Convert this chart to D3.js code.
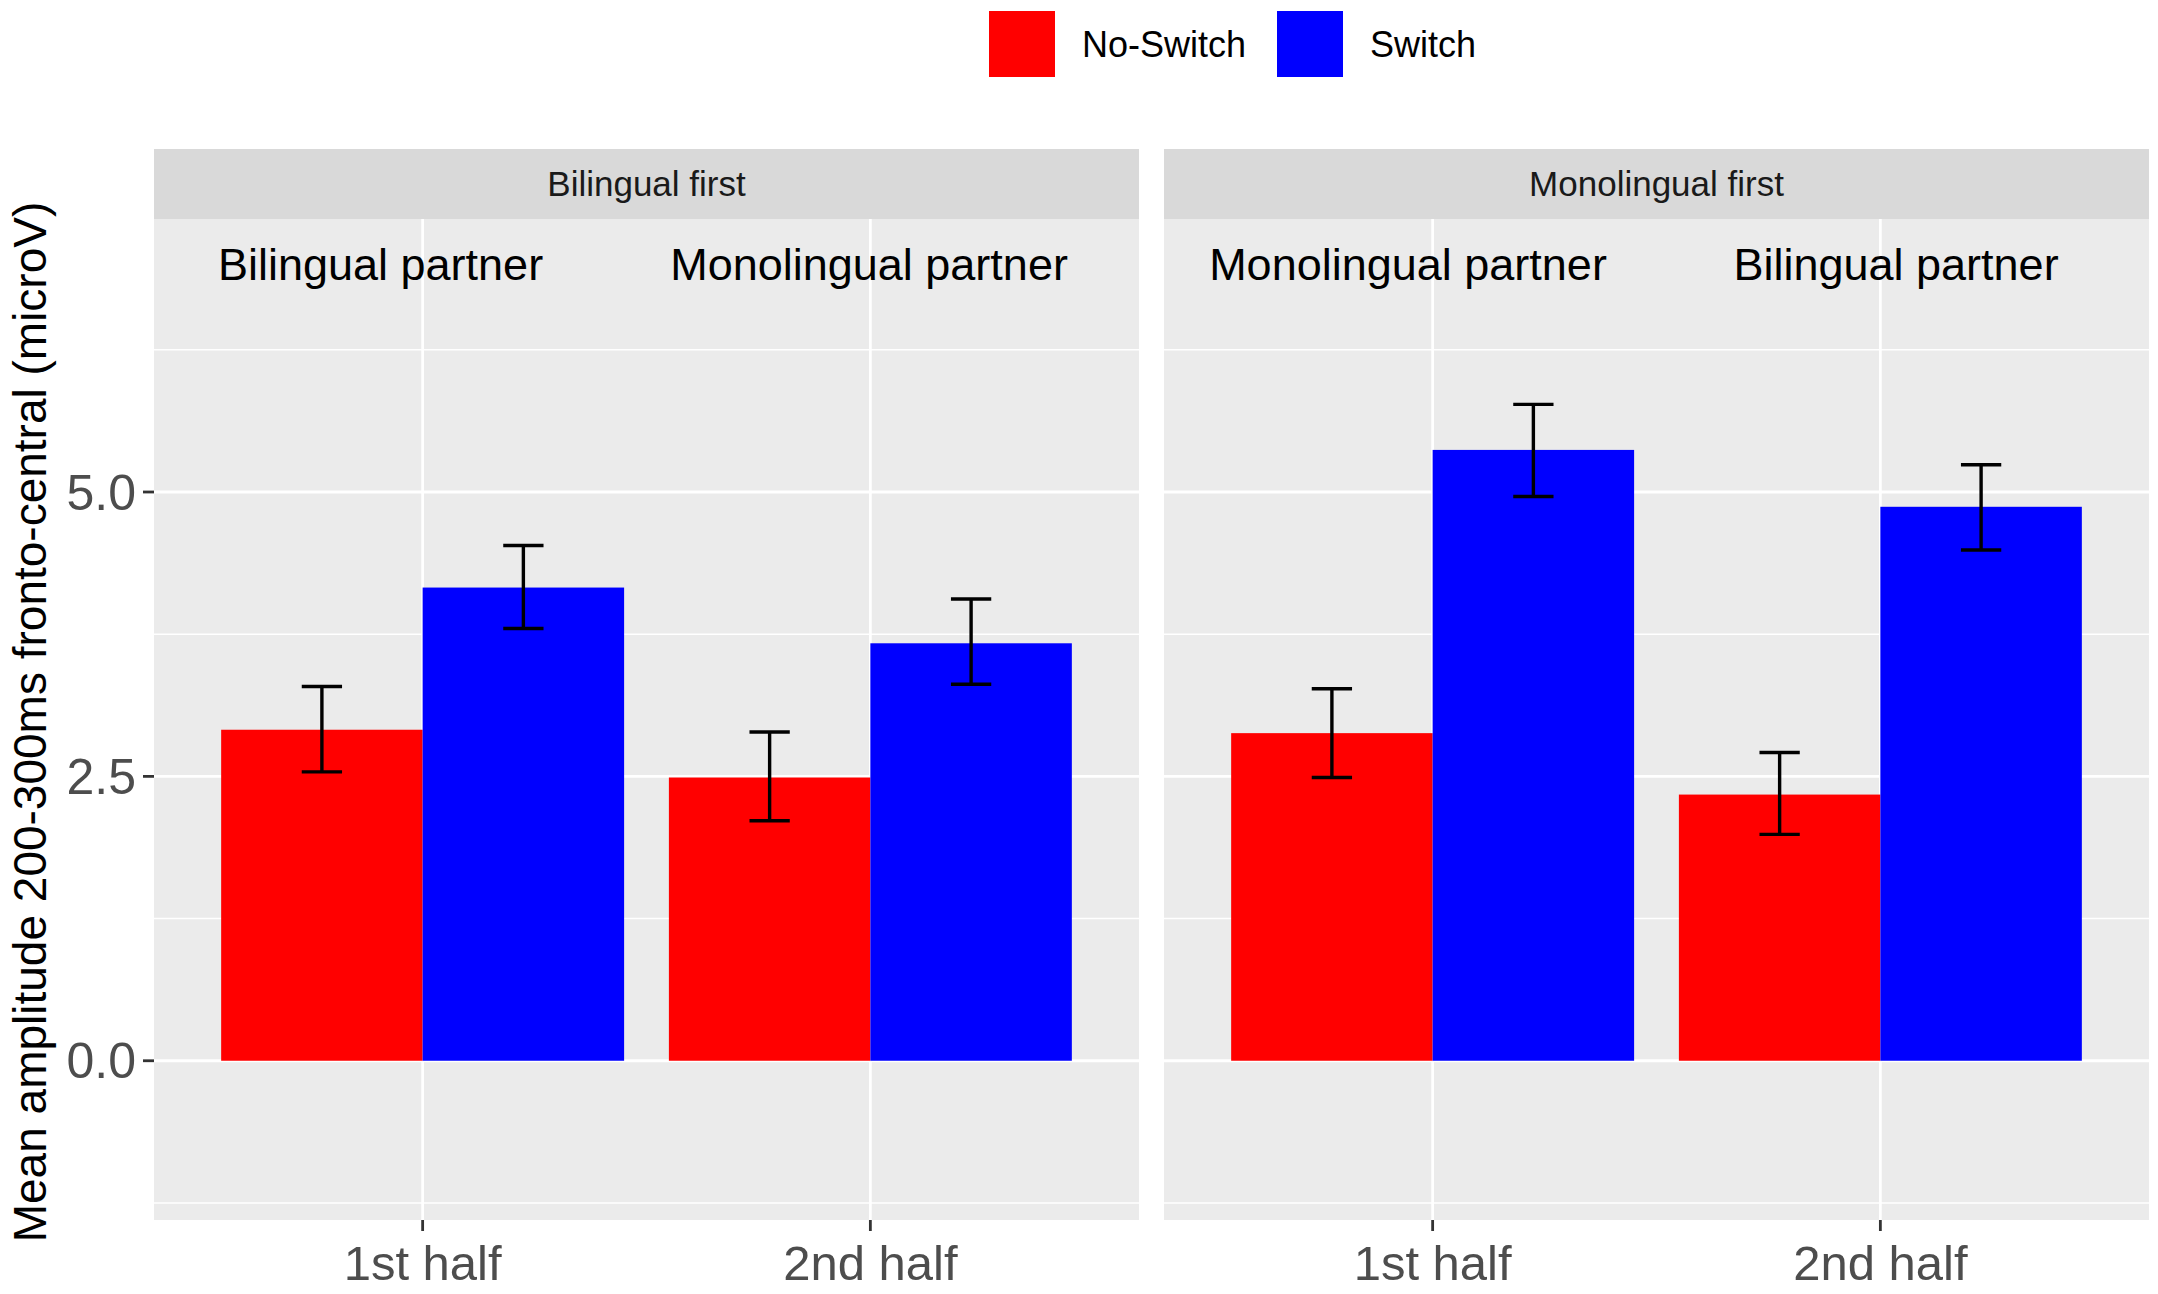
<!DOCTYPE html>
<html>
<head>
<meta charset="utf-8">
<script src="https://cdn.jsdelivr.net/npm/d3@7"></script>
<style>
  body { margin: 0; background: #ffffff; }
  text { font-family: "Liberation Sans", Arial, sans-serif; }
</style>
</head>
<body>
<div id="chart"></div>
<script>
const width = 2158;
const height = 1294;

// facets, x categories, fill groups
const panels = ["Bilingual first", "Monolingual first"];
const halves = ["1st half", "2nd half"];
const conditions = ["No-Switch", "Switch"];
const colors = ["#FF0000", "#0000FF"];

// means and error bar limits, per panel: [1st half, 2nd half]
const noSwitchMean = [[2.91, 2.49], [2.88, 2.34]];
const noSwitchLow  = [[2.54, 2.11], [2.49, 1.99]];
const noSwitchHigh = [[3.29, 2.89], [3.27, 2.71]];
const switchMean   = [[4.16, 3.67], [5.37, 4.87]];
const switchLow    = [[3.80, 3.31], [4.96, 4.49]];
const switchHigh   = [[4.53, 4.06], [5.77, 5.24]];

// in-panel labels (x in category units, y in data units)
const partnerLabels = [["Bilingual partner", "Monolingual partner"], ["Monolingual partner", "Bilingual partner"]];
const partnerX = [[0.906, 1.997], [0.945, 2.035]];
const partnerY = 7;

const yTicks = [0, 2.5, 5.0];
const yMinor = [-1.25, 1.25, 3.75, 6.25];
const yTitle = "Mean amplitude 200-300ms fronto-central (microV)";

const panelLeft = [154, 1164];
const panelW = 985;
const stripTop = 149, stripBottom = 219, panelBottom = 1220;

const svg = d3.select("#chart")
  .append("svg")
  .attr("width", width)
  .attr("height", height);

const y = d3.scaleLinear()
  .domain([-1.4, 7.4])
  .range([panelBottom, stripBottom]);

const barW = 0.45;
const capW = 0.09;

panels.forEach((name, p) => {
  const x = d3.scaleLinear()
    .domain([0.4, 2.6])
    .range([panelLeft[p], panelLeft[p] + panelW]);
  const g = svg.append("g");

  // strip
  g.append("rect")
    .attr("x", panelLeft[p]).attr("y", stripTop)
    .attr("width", panelW).attr("height", stripBottom - stripTop)
    .attr("fill", "#D9D9D9");
  g.append("text")
    .attr("x", panelLeft[p] + panelW / 2)
    .attr("y", (stripTop + stripBottom) / 2)
    .attr("dy", "0.35em")
    .attr("text-anchor", "middle")
    .attr("font-size", 35)
    .attr("fill", "#1A1A1A")
    .text(name);

  // panel background
  g.append("rect")
    .attr("x", panelLeft[p]).attr("y", stripBottom)
    .attr("width", panelW).attr("height", panelBottom - stripBottom)
    .attr("fill", "#EBEBEB");

  // grid
  g.selectAll(".minor").data(yMinor).join("line")
    .attr("x1", panelLeft[p]).attr("x2", panelLeft[p] + panelW)
    .attr("y1", d => y(d)).attr("y2", d => y(d))
    .attr("stroke", "#ffffff").attr("stroke-width", 1.4);
  g.selectAll(".major").data(yTicks).join("line")
    .attr("x1", panelLeft[p]).attr("x2", panelLeft[p] + panelW)
    .attr("y1", d => y(d)).attr("y2", d => y(d))
    .attr("stroke", "#ffffff").attr("stroke-width", 2.8);
  g.selectAll(".vgrid").data(halves).join("line")
    .attr("x1", (d, i) => x(i + 1)).attr("x2", (d, i) => x(i + 1))
    .attr("y1", stripBottom).attr("y2", panelBottom)
    .attr("stroke", "#ffffff").attr("stroke-width", 2.8);

  // bars
  const rows = [];
  halves.forEach((h, i) => {
    rows.push({ c: 0, x: i + 1 - barW / 2, mean: noSwitchMean[p][i], lo: noSwitchLow[p][i], hi: noSwitchHigh[p][i] });
    rows.push({ c: 1, x: i + 1 + barW / 2, mean: switchMean[p][i], lo: switchLow[p][i], hi: switchHigh[p][i] });
  });

  g.selectAll(".bar").data(rows).join("rect")
    .attr("x", d => x(d.x - barW / 2))
    .attr("width", d => x(d.x + barW / 2) - x(d.x - barW / 2))
    .attr("y", d => y(d.mean))
    .attr("height", d => y(0) - y(d.mean))
    .attr("fill", d => colors[d.c]);

  // error bars
  const eb = g.selectAll(".eb").data(rows).join("g")
    .attr("stroke", "#000000").attr("stroke-width", 3.4);
  eb.append("line")
    .attr("x1", d => x(d.x)).attr("x2", d => x(d.x))
    .attr("y1", d => y(d.lo)).attr("y2", d => y(d.hi));
  eb.append("line")
    .attr("x1", d => x(d.x - capW / 2)).attr("x2", d => x(d.x + capW / 2))
    .attr("y1", d => y(d.lo)).attr("y2", d => y(d.lo));
  eb.append("line")
    .attr("x1", d => x(d.x - capW / 2)).attr("x2", d => x(d.x + capW / 2))
    .attr("y1", d => y(d.hi)).attr("y2", d => y(d.hi));

  // partner labels
  g.selectAll(".plab").data(partnerLabels[p]).join("text")
    .attr("x", (d, i) => x(partnerX[p][i]))
    .attr("y", y(partnerY))
    .attr("dy", "0.35em")
    .attr("text-anchor", "middle")
    .attr("font-size", 45)
    .attr("fill", "#000000")
    .text(d => d);

  // x axis
  const xa = g.append("g").attr("transform", `translate(0, ${panelBottom})`);
  xa.selectAll("line").data(halves).join("line")
    .attr("x1", (d, i) => x(i + 1)).attr("x2", (d, i) => x(i + 1))
    .attr("y1", 0).attr("y2", 11)
    .attr("stroke", "#333333").attr("stroke-width", 2.8);
  xa.selectAll("text").data(halves).join("text")
    .attr("x", (d, i) => x(i + 1))
    .attr("y", 60)
    .attr("text-anchor", "middle")
    .attr("font-size", 49)
    .attr("fill", "#4D4D4D")
    .text(d => d);
});

// y axis on left panel
const ya = svg.append("g").attr("transform", `translate(${panelLeft[0]}, 0)`);
ya.selectAll("line").data(yTicks).join("line")
  .attr("x1", -11).attr("x2", 0)
  .attr("y1", d => y(d)).attr("y2", d => y(d))
  .attr("stroke", "#333333").attr("stroke-width", 2.8);
ya.selectAll("text").data(yTicks).join("text")
  .attr("x", -18)
  .attr("y", d => y(d))
  .attr("dy", "0.35em")
  .attr("text-anchor", "end")
  .attr("font-size", 50)
  .attr("fill", "#4D4D4D")
  .text(d => d3.format(".1f")(d));

svg.append("text")
  .attr("transform", `translate(46, 722) rotate(-90)`)
  .attr("text-anchor", "middle")
  .attr("font-size", 46)
  .attr("fill", "#000000")
  .text(yTitle);

// legend
const legendX = [989, 1277];
const lg = svg.append("g");
conditions.forEach((c, i) => {
  lg.append("rect")
    .attr("x", legendX[i]).attr("y", 11)
    .attr("width", 66).attr("height", 66)
    .attr("fill", colors[i]);
  lg.append("text")
    .attr("x", legendX[i] + 93)
    .attr("y", 44)
    .attr("dy", "0.35em")
    .attr("font-size", 36)
    .attr("fill", "#000000")
    .text(c);
});
</script>
</body>
</html>
